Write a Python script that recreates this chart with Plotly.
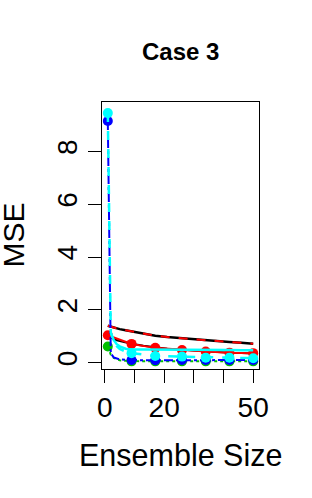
import plotly.graph_objects as go

# ---- data ----
x_dense = [1, 2, 3, 4, 5, 7, 9, 13, 17, 21, 26, 30, 34, 38, 42, 46, 50]
x_pts = [1, 9, 17, 26, 34, 42, 50]

black_top = [1.40, 1.36, 1.33, 1.30, 1.27, 1.23, 1.19, 1.10, 1.02, 0.97, 0.92, 0.88, 0.84, 0.81, 0.78, 0.75, 0.72]
black_mid = [1.02, 0.94, 0.89, 0.85, 0.82, 0.77, 0.72, 0.64, 0.58, 0.53, 0.49, 0.46, 0.43, 0.40, 0.38, 0.37, 0.35]
red_pts = [1.04, 0.71, 0.56, 0.48, 0.42, 0.38, 0.36]
cyan_line = [None, 1.12, 0.85, 0.70, 0.62, 0.53, 0.50, 0.50, 0.50, 0.50, 0.50, 0.49, 0.49, 0.48, 0.48, 0.47, 0.47]
cyan_dense = [9.45, 1.15, 0.80, 0.62, 0.52, 0.42, 0.36, 0.30, 0.25, 0.24, 0.23, 0.21, 0.19, 0.19, 0.19, 0.18, 0.17]
cyan_pts = [9.45, 0.36, 0.25, 0.23, 0.19, 0.19, 0.17]
blue_dense = [9.15, 0.35, 0.20, 0.15, 0.12, 0.11, 0.10, 0.09, 0.09, 0.09, 0.10, 0.10, 0.10, 0.10, 0.10, 0.10, 0.10]
blue_pts = [9.15, 0.10, 0.09, 0.10, 0.10, 0.10, 0.10]
green_dense = [0.61, 0.30, 0.18, 0.12, 0.09, 0.07, 0.06, 0.05, 0.05, 0.05, 0.05, 0.05, 0.05, 0.05, 0.05, 0.05, 0.05]
green_pts = [0.61, 0.05, 0.05, 0.05, 0.05, 0.05, 0.05]

x_tickvals = [0, 10, 20, 30, 40, 50]
x_ticktext = ["0", "", "20", "", "", "50"]
y_tickvals = [0, 2, 4, 6, 8]
y_ticktext = ["0", "2", "4", "6", "8"]

FONT = "Liberation Sans, Arial, Helvetica, sans-serif"
MS = 10

fig = go.Figure()

def line(x, y, color, dash="solid", width=2):
    fig.add_trace(go.Scatter(x=x, y=y, mode="lines", line=dict(color=color, dash=dash, width=width),
                             showlegend=False, hoverinfo="skip", connectgaps=False))

def pts(x, y, color):
    fig.add_trace(go.Scatter(x=x, y=y, mode="markers", marker=dict(color=color, size=MS, line=dict(width=0)),
                             showlegend=False, hoverinfo="skip"))

line(x_dense, black_top, "black", width=2.5)
line(x_dense, black_top, "red", dash="dash", width=2)
line(x_dense, black_mid, "black", width=2)
line(x_pts, red_pts, "red", width=2)
pts(x_pts, red_pts, "red")
line(x_dense, cyan_line, "cyan", width=2.5)
line(x_dense, green_dense, "#00c000", dash="dot", width=2)
pts(x_pts, green_pts, "#00c000")
line(x_dense, blue_dense, "blue", dash="dashdot", width=2)
pts(x_pts, blue_pts, "blue")
line(x_dense, cyan_dense, "cyan", dash="dash", width=2.5)
pts(x_pts, cyan_pts, "cyan")

axis_common = dict(showgrid=False, zeroline=False, showline=True, mirror=True, linecolor="black",
                   linewidth=1, ticks="outside", ticklen=13, tickcolor="black", tickwidth=1,
                   tickfont=dict(family=FONT, size=28, color="black"))

fig.update_xaxes(range=[-0.96, 51.96], tickmode="array", tickvals=x_tickvals, ticktext=x_ticktext,
                 **axis_common)
fig.update_yaxes(range=[-0.24, 9.87], tickmode="array", tickvals=y_tickvals, ticktext=y_ticktext,
                 tickangle=-90, **axis_common)

fig.update_layout(
    width=312, height=498,
    margin=dict(l=102, r=53, t=102, b=129, autoexpand=False),
    paper_bgcolor="white", plot_bgcolor="white",
    annotations=[
        dict(text="<b>Case 3</b>", x=0.5, y=1, xref="paper", yref="paper", xanchor="center",
             yanchor="middle", yshift=51, showarrow=False, font=dict(family=FONT, size=24, color="black")),
        dict(text="Ensemble Size", x=0.5, y=0, xref="paper", yref="paper", xanchor="center",
             yanchor="middle", yshift=-86, showarrow=False, font=dict(family=FONT, size=30.5, color="black")),
        dict(text="MSE", x=0, y=0.5, xref="paper", yref="paper", xanchor="center",
             yanchor="middle", xshift=-89, textangle=-90, showarrow=False,
             font=dict(family=FONT, size=30, color="black")),
    ],
)

fig.write_html("out.html", config={"displayModeBar": False},
               post_script="document.body.style.margin='0';document.body.style.padding='0';")
